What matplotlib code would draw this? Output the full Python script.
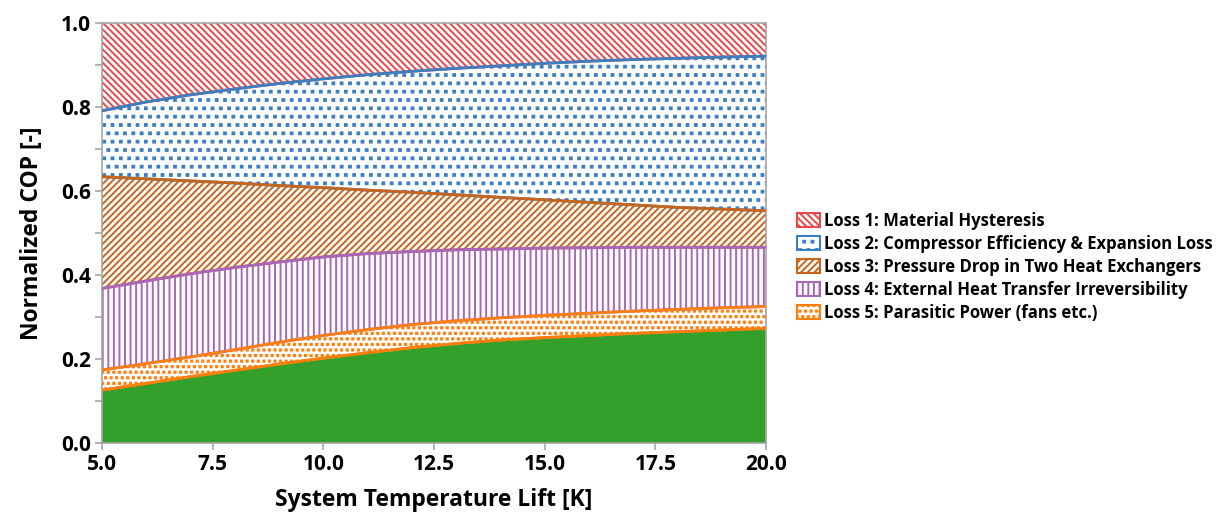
import numpy as np
import matplotlib
matplotlib.use("Agg")
import matplotlib.pyplot as plt
import matplotlib.hatch as mhatch
from matplotlib.path import Path
from matplotlib.patches import Patch
from matplotlib.ticker import MultipleLocator, FormatStrFormatter

# -----------------------------
# Data
# -----------------------------
lift = [5, 6, 7, 8, 9, 10, 11, 12, 13, 14, 15, 16, 17, 18, 19, 20]

# actual normalized COP (green area)
cop_actual = [0.126, 0.142, 0.158, 0.173, 0.188, 0.202, 0.215, 0.227, 0.237, 0.245,
              0.251, 0.256, 0.261, 0.265, 0.269, 0.273]
# upper edge of each loss band
top_loss5 = [0.174, 0.189, 0.205, 0.222, 0.240, 0.256, 0.270, 0.282, 0.291, 0.298,
             0.304, 0.309, 0.314, 0.318, 0.322, 0.325]
top_loss4 = [0.368, 0.386, 0.403, 0.418, 0.431, 0.443, 0.451, 0.456, 0.460, 0.462,
             0.464, 0.465, 0.466, 0.466, 0.466, 0.466]
top_loss3 = [0.634, 0.629, 0.624, 0.619, 0.613, 0.608, 0.602, 0.597, 0.591, 0.585,
             0.579, 0.573, 0.567, 0.561, 0.557, 0.553]
top_loss2 = [0.791, 0.812, 0.829, 0.843, 0.856, 0.867, 0.877, 0.885, 0.892, 0.898,
             0.904, 0.909, 0.913, 0.916, 0.919, 0.921]
top_loss1 = [1.0] * len(lift)

labels = ["Loss 1: Material Hysteresis",
          "Loss 2: Compressor Efficiency & Expansion Loss",
          "Loss 3: Pressure Drop in Two Heat Exchangers",
          "Loss 4: External Heat Transfer Irreversibility",
          "Loss 5: Parasitic Power (fans etc.)"]
colors = ["#e8474c", "#3a7fc1", "#c8651b", "#a866bd", "#ff7f0e"]
hatches = ["\\\\\\\\\\", "..", "/////", "|||", "..."]
green = "#33a02c"


# square dots instead of the round ones for the '.' hatch
class SquareDots(mhatch.Shapes):
    size = 0.11
    filled = True

    def __init__(self, hatch, density):
        self.num_rows = hatch.count('.') * density
        self.shape_vertices = np.array([[-1, -1], [1, -1], [1, 1], [-1, 1], [-1, -1]], float)
        self.shape_codes = np.array([Path.MOVETO, Path.LINETO, Path.LINETO,
                                     Path.LINETO, Path.CLOSEPOLY], dtype=Path.code_type)
        super().__init__(hatch, density)


mhatch._hatch_types[mhatch._hatch_types.index(mhatch.SmallFilledCircles)] = SquareDots

plt.rcParams['font.family'] = ['Open Sans', 'DejaVu Sans']
plt.rcParams['font.weight'] = 'bold'
plt.rcParams['hatch.linewidth'] = 1.4

fig = plt.figure(figsize=(12.25, 5.15), dpi=100)
ax = fig.add_axes([102 / 1225, 72 / 515, 664 / 1225, 420 / 515])

# -----------------------------
# Stacked areas
# -----------------------------
bands = [(top_loss2, top_loss1), (top_loss3, top_loss2), (top_loss4, top_loss3),
         (top_loss5, top_loss4), (cop_actual, top_loss5)]
for (lo, hi), c, h in zip(bands, colors, hatches):
    ax.fill_between(lift, lo, hi, facecolor="white", edgecolor=c, hatch=h, lw=0, zorder=1)
ax.fill_between(lift, 0, cop_actual, facecolor=green, lw=0, zorder=1)

# band edges: lower edge first, then each band's upper edge on top
for (lo, hi), c in zip(bands, colors):
    ax.plot(lift, lo, color=c, lw=2.0, zorder=2)
for (lo, hi), c in zip(bands[1:], colors[1:]):
    ax.plot(lift, hi, color=c, lw=2.0, zorder=3)
ax.plot(lift, cop_actual, color=colors[4], lw=2.0, zorder=3)

# -----------------------------
# Axes styling
# -----------------------------
ax.set_xlim(5, 20)
ax.set_ylim(0, 1)
ax.xaxis.set_major_locator(MultipleLocator(2.5))
ax.yaxis.set_major_locator(MultipleLocator(0.2))
ax.yaxis.set_minor_locator(MultipleLocator(0.1))
ax.xaxis.set_major_formatter(FormatStrFormatter('%.1f'))
ax.yaxis.set_major_formatter(FormatStrFormatter('%.1f'))

for s in ax.spines.values():
    s.set_color("#a6a6a6")
    s.set_linewidth(1.2)
ax.tick_params(axis='both', which='both', color="#a6a6a6", width=1.2, length=5,
               labelsize=15, pad=3)
ax.tick_params(axis='x', which='minor', bottom=False)

ax.set_xlabel("System Temperature Lift [K]", fontsize=16.5, fontweight='bold', labelpad=9)
ax.set_ylabel("Normalized COP [-]", fontsize=16.5, fontweight='bold', labelpad=12)

handles = [Patch(facecolor="white", edgecolor=c, hatch=h, linewidth=1.5)
           for c, h in zip(colors, hatches)]
fig.legend(handles, labels, loc='upper left', bbox_to_anchor=(797 / 1225, 1 - 212 / 515),
           frameon=False, prop={'weight': 'bold', 'size': 12},
           handlelength=1.35, handleheight=0.95, handletextpad=0.3, labelspacing=0.3,
           borderpad=0, borderaxespad=0)

fig.savefig("out.png", dpi=100)
plt.close(fig)
